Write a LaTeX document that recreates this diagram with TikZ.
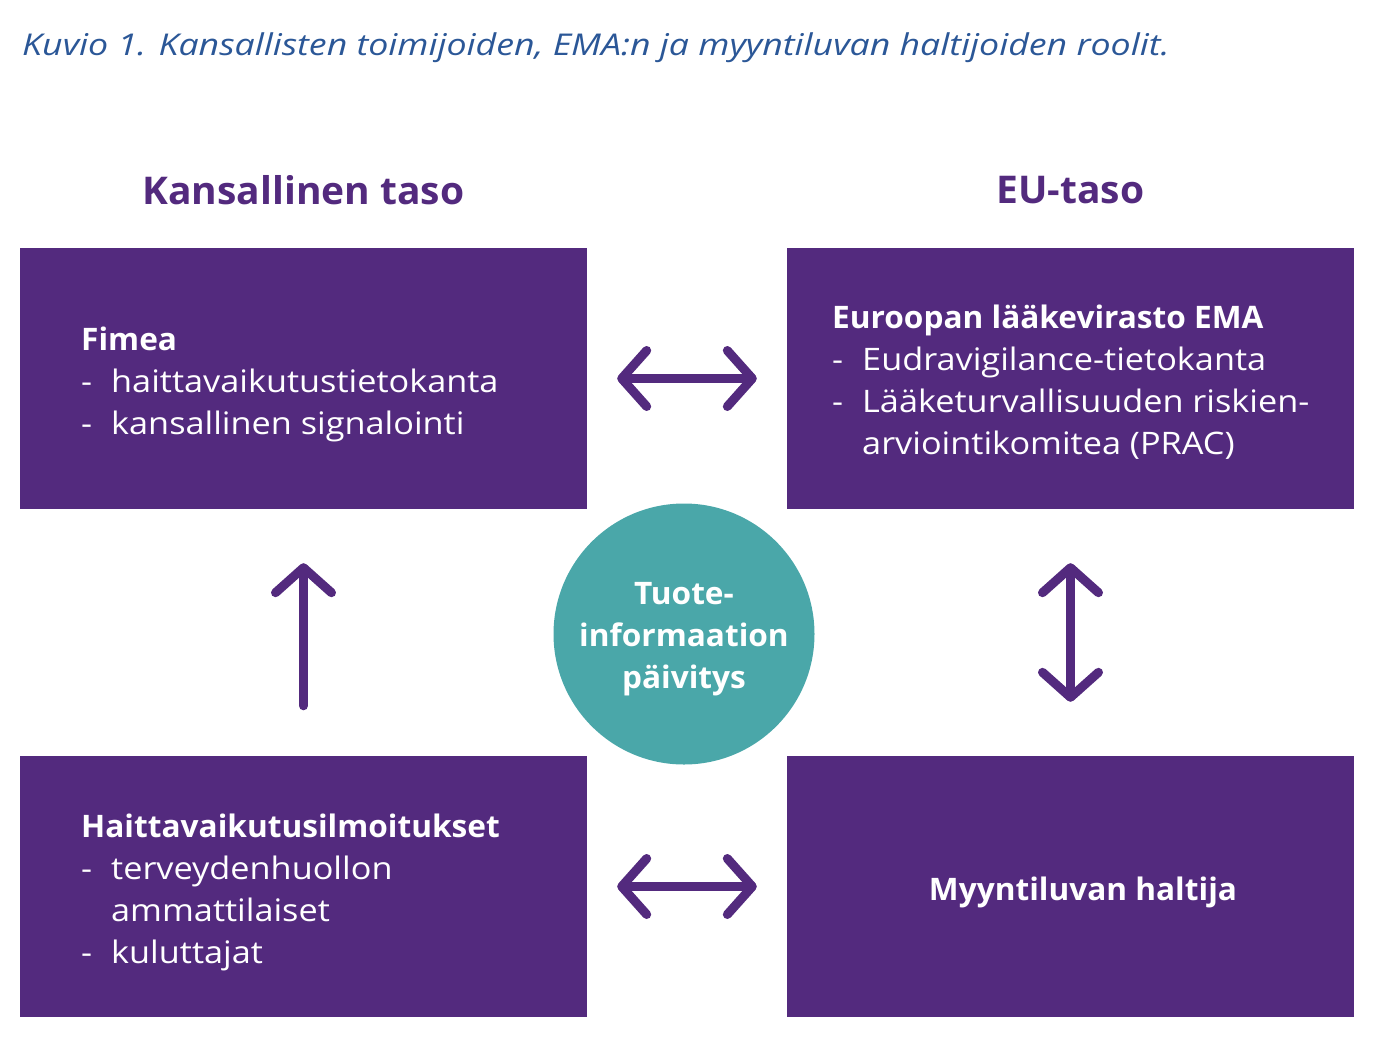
\documentclass[tikz,border=0pt]{standalone}
\usepackage{fontspec}
\setmainfont{Open Sans}[UprightFeatures={FakeStretch=1.105}, BoldFeatures={FakeStretch=1.02}, ItalicFeatures={FakeStretch=1.19}]
\usetikzlibrary{arrows.meta}
\definecolor{vio}{HTML}{532A7E}
\definecolor{teal2}{HTML}{4AA7A9}
\definecolor{tblue}{HTML}{2B5797}
\tikzset{
  box/.style={fill=vio, draw=none, minimum width=567pt, minimum height=261pt, inner sep=0pt},
  boxtext/.style={text=white, align=left, inner sep=0pt, anchor=west, font=\fontsize{31}{42}\selectfont},
  head/.style={text=vio, font=\bfseries\fontsize{38.2}{44}\selectfont, inner sep=0pt},
  conn/.style={draw=vio, line width=9pt, line cap=round, arrows={-}},
}
\newcommand{\li}[1]{\makebox[30pt][l]{-}#1}
\begin{document}
\begin{tikzpicture}[x=1pt,y=-1pt]
\useasboundingbox (0,0) rectangle (1374,1037);
\node[anchor=base west, inner sep=0pt, text=tblue, font=\itshape\fontsize{30}{34}\selectfont] (title) at (22,55) {Kuvio 1. Kansallisten toimijoiden, EMA:n ja myyntiluvan haltijoiden roolit.};
\node[head] (h1) at (303.5,190) {Kansallinen taso};
\node[head] (h2) at (1070.5,190) {EU-taso};

\node[box] (fimea) at (303.5,378.5) {};
\node[box] (ema) at (1070.5,378.5) {};
\node[box] (hv) at (303.5,886.5) {};
\node[box] (mlh) at (1070.5,886.5) {};

\node[boxtext] (t1) at (81,384) {\textbf{Fimea}\\\li{haittavaikutustietokanta}\\\li{kansallinen signalointi}};
\node[boxtext] (t2) at (832,382) {\textbf{Euroopan lääkevirasto EMA}\\\li{Eudravigilance-tietokanta}\\\li{Lääketurvallisuuden riskien-}\\\hspace*{30pt}arviointikomitea (PRAC)};
\node[boxtext] (t3) at (81,892) {\textbf{Haittavaikutusilmoitukset}\\\li{terveydenhuollon}\\\hspace*{30pt}ammattilaiset\\\li{kuluttajat}};
\node[text=white, font=\bfseries\fontsize{31}{42}\selectfont, inner sep=0pt] (t4) at (1083,892) {Myyntiluvan haltija};

\node[circle, fill=teal2, minimum size=261pt, inner sep=0pt] (c) at (684,634) {};
\node[text=white, align=center, inner sep=0pt, font=\bfseries\fontsize{31}{42}\selectfont] (ct) at (684,639) {Tuote-\\informaation\\päivitys};

\draw[conn, {Straight Barb[length=25pt, width=56pt, round]}-{Straight Barb[length=25pt, width=56pt, round]}, shorten <=30pt, shorten >=30pt] (fimea.east) -- (ema.west);
\draw[conn, {Straight Barb[length=25pt, width=56pt, round]}-{Straight Barb[length=25pt, width=56pt, round]}, shorten <=30pt, shorten >=30pt] (hv.east) -- (mlh.west);
\draw[conn, -{Straight Barb[length=25pt, width=56pt, round]}, shorten <=50pt, shorten >=54pt] (hv.north) -- (fimea.south);
\draw[conn, {Straight Barb[length=25pt, width=56pt, round]}-{Straight Barb[length=25pt, width=56pt, round]}, shorten <=54pt, shorten >=54pt] (ema.south) -- (mlh.north);
\end{tikzpicture}
\end{document}
